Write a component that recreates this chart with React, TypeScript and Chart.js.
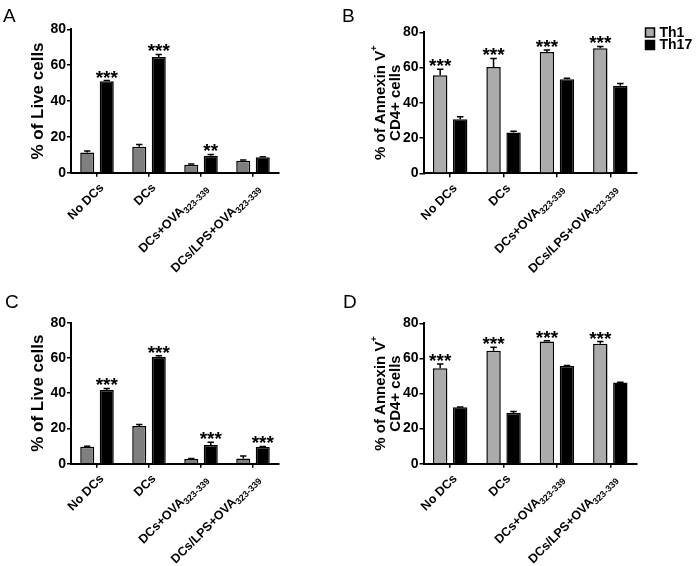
import { useEffect, useRef } from 'react';
import { Chart, registerables } from 'chart.js';

Chart.register(...registerables);

// ---------- data ----------
const categories = ['No DCs', 'DCs', 'DCs+OVA', 'DCs/LPS+OVA'];
const categorySubscripts = ['', '', '323-339', '323-339'];
const seriesNames = ['Th1', 'Th17'];
const yTicks = [0, 20, 40, 60, 80];

const aTh1 = [11.3, 14.5, 4.5, 6.7];
const aTh1Err = [0.8, 1.3, 0.3, 0.4];
const aTh17 = [51.0, 64.6, 9.5, 8.6];
const aTh17Err = [0.4, 1.4, 0.7, 0.3];
const aStars = ['***', '***', '**', ''];

const bTh1 = [55.6, 60.3, 68.8, 70.9];
const bTh1Err = [3.4, 4.9, 1.1, 1.1];
const bTh17 = [30.6, 23.1, 53.3, 49.7];
const bTh17Err = [1.5, 0.7, 0.7, 1.3];
const bStars = ['***', '***', '***', '***'];

const cTh1 = [9.6, 21.4, 2.6, 3.0];
const cTh1Err = [0.3, 0.9, 0.4, 1.3];
const cTh17 = [41.8, 60.7, 10.6, 9.5];
const cTh17Err = [0.9, 0.5, 1.5, 0.3];
const cStars = ['***', '***', '***', '***'];

const dTh1 = [54.4, 64.4, 69.6, 68.4];
const dTh1Err = [2.4, 1.9, 0.4, 1.2];
const dTh17 = [32.1, 28.9, 55.7, 46.2];
const dTh17Err = [0.2, 0.8, 0.3, 0.2];
const dStars = ['***', '***', '***', '***'];

const liveTitle = [[{ t: '% of Live cells', sup: false }]];
const annexinTitle = [
  [{ t: '% of Annexin V', sup: false }, { t: '+', sup: true }],
  [{ t: 'CD4+ cells', sup: false }],
];

// ---------- styling ----------
const FONT = '"Liberation Sans", Arial, sans-serif';
const DARK_GREY = '#7f7f7f';
const LIGHT_GREY = '#ababab';
const BLACK = '#000000';

type Seg = { t: string; sup: boolean };
type Panel = {
  letter: string;
  left: number; top: number; width: number; height: number;
  area: { l: number; r: number; t: number; b: number };
  th1: number[]; th1Err: number[]; th17: number[]; th17Err: number[];
  stars: string[]; starSeries: number; th1Color: string;
  title: Seg[][]; titleX: number[]; titleFont: number;
  legend: boolean; letterPos: [number, number];
};

const panels: Panel[] = [
  {
    letter: 'A', left: 0, top: 0, width: 340, height: 283,
    area: { l: 71, r: 279, t: 29.3, b: 172.7 },
    th1: aTh1, th1Err: aTh1Err, th17: aTh17, th17Err: aTh17Err,
    stars: aStars, starSeries: 1, th1Color: DARK_GREY,
    title: liveTitle, titleX: [38], titleFont: 17, legend: false, letterPos: [3, 22],
  },
  {
    letter: 'B', left: 340, top: 0, width: 356, height: 283,
    area: { l: 83.5, r: 297, t: 32.3, b: 173.3 },
    th1: bTh1, th1Err: bTh1Err, th17: bTh17, th17Err: bTh17Err,
    stars: bStars, starSeries: 0, th1Color: LIGHT_GREY,
    title: annexinTitle, titleX: [41, 55.5], titleFont: 15, legend: true, letterPos: [2, 22],
  },
  {
    letter: 'C', left: 0, top: 283, width: 340, height: 283,
    area: { l: 71, r: 279, t: 39.7, b: 180.7 },
    th1: cTh1, th1Err: cTh1Err, th17: cTh17, th17Err: cTh17Err,
    stars: cStars, starSeries: 1, th1Color: DARK_GREY,
    title: liveTitle, titleX: [38], titleFont: 17, legend: false, letterPos: [5, 25],
  },
  {
    letter: 'D', left: 340, top: 283, width: 356, height: 283,
    area: { l: 83.5, r: 297, t: 40.3, b: 180.7 },
    th1: dTh1, th1Err: dTh1Err, th17: dTh17, th17Err: dTh17Err,
    stars: dStars, starSeries: 0, th1Color: LIGHT_GREY,
    title: annexinTitle, titleX: [41, 55.5], titleFont: 15, legend: false, letterPos: [3, 25],
  },
];

function makeChart(canvas: HTMLCanvasElement, p: Panel) {
  const decor = {
    id: 'decor',
    afterDatasetsDraw(chart: any) {
      const ctx = chart.ctx as CanvasRenderingContext2D;
      const ys = chart.scales.y;
      const vals = [p.th1, p.th17];
      const errs = [p.th1Err, p.th17Err];
      ctx.save();
      ctx.strokeStyle = BLACK;
      ctx.fillStyle = BLACK;
      ctx.lineWidth = 1.5;
      for (let d = 0; d < 2; d++) {
        const meta = chart.getDatasetMeta(d);
        meta.data.forEach((el: any, i: number) => {
          const top = ys.getPixelForValue(vals[d][i] + errs[d][i]);
          const w = el.width * 0.45;
          ctx.beginPath();
          ctx.moveTo(el.x, el.y);
          ctx.lineTo(el.x, top);
          ctx.moveTo(el.x - w / 2, top);
          ctx.lineTo(el.x + w / 2, top);
          ctx.stroke();
          if (d === p.starSeries && p.stars[i]) {
            ctx.font = `bold 19px ${FONT}`;
            ctx.textAlign = 'center';
            ctx.textBaseline = 'alphabetic';
            ctx.fillText(p.stars[i], el.x, top + 3);
          }
        });
      }
      ctx.restore();
    },
    afterDraw(chart: any) {
      const ctx = chart.ctx as CanvasRenderingContext2D;
      const xs = chart.scales.x;
      const area = chart.chartArea;
      ctx.save();
      ctx.fillStyle = BLACK;
      // category labels (rotated, with subscripts)
      categories.forEach((c, i) => {
        const sub = categorySubscripts[i];
        const x = xs.getPixelForTick(i);
        ctx.save();
        ctx.translate(x + 4, xs.top + 12);
        ctx.rotate(-Math.PI / 4);
        const mainF = `bold 12.5px ${FONT}`;
        const subF = `bold 9px ${FONT}`;
        ctx.font = mainF;
        const wm = ctx.measureText(c).width;
        ctx.font = subF;
        const ws = sub ? ctx.measureText(sub).width + 0.5 : 0;
        ctx.textAlign = 'left';
        ctx.textBaseline = 'alphabetic';
        ctx.font = mainF;
        ctx.fillText(c, -(wm + ws), 5);
        if (sub) {
          ctx.font = subF;
          ctx.fillText(sub, -ws, 8);
        }
        ctx.restore();
      });
      // y-axis title
      const cy = (area.top + area.bottom) / 2;
      p.title.forEach((line, li) => {
        const mainF = `bold ${p.titleFont}px ${FONT}`;
        const supF = `bold ${Math.round(p.titleFont * 0.62)}px ${FONT}`;
        let total = 0;
        const widths = line.map((s) => {
          ctx.font = s.sup ? supF : mainF;
          const w = ctx.measureText(s.t).width;
          total += w;
          return w;
        });
        ctx.save();
        ctx.translate(p.titleX[li], cy);
        ctx.rotate(-Math.PI / 2);
        ctx.textAlign = 'left';
        ctx.textBaseline = 'middle';
        let xx = -total / 2;
        line.forEach((s, si) => {
          ctx.font = s.sup ? supF : mainF;
          ctx.fillText(s.t, xx, s.sup ? -p.titleFont * 0.4 : 0);
          xx += widths[si];
        });
        ctx.restore();
      });
      // legend
      if (p.legend) {
        const colors = [p.th1Color, BLACK];
        seriesNames.forEach((n, i) => {
          const sx = 305.5, sy = 28 + i * 12.5;
          ctx.fillStyle = colors[i];
          ctx.fillRect(sx, sy, 9, 9);
          ctx.strokeStyle = BLACK;
          ctx.lineWidth = 1.5;
          ctx.strokeRect(sx, sy, 9, 9);
          ctx.fillStyle = BLACK;
          ctx.font = `bold 14px ${FONT}`;
          ctx.textAlign = 'left';
          ctx.textBaseline = 'middle';
          ctx.fillText(n, sx + 14, sy + 5);
        });
      }
      // panel letter
      ctx.fillStyle = BLACK;
      ctx.font = `19px ${FONT}`;
      ctx.textAlign = 'left';
      ctx.textBaseline = 'alphabetic';
      ctx.fillText(p.letter, p.letterPos[0], p.letterPos[1]);
      ctx.restore();
    },
  };

  const axisGrid = {
    display: true,
    drawOnChartArea: false,
    drawTicks: true,
    tickLength: 4,
    color: BLACK,
    lineWidth: 1.5,
  };

  return new Chart(canvas, {
    type: 'bar',
    data: {
      labels: categories,
      datasets: [
        {
          label: seriesNames[0], data: p.th1, backgroundColor: p.th1Color,
          borderColor: BLACK, borderWidth: 1.5,
          barPercentage: 0.72, categoryPercentage: 0.75,
        },
        {
          label: seriesNames[1], data: p.th17, backgroundColor: BLACK,
          borderColor: BLACK, borderWidth: 1.5,
          barPercentage: 0.72, categoryPercentage: 0.75,
        },
      ],
    },
    options: {
      responsive: false,
      animation: false,
      events: [],
      layout: {
        padding: { left: 0, top: p.area.t, right: p.width - p.area.r, bottom: 0 },
      },
      plugins: {
        legend: { display: false },
        tooltip: { enabled: false },
        title: { display: false },
      },
      scales: {
        x: {
          type: 'category',
          offset: true,
          grid: { ...axisGrid, offset: false },
          border: { display: true, color: BLACK, width: 2 },
          ticks: { display: false },
          afterFit: (s: any) => { s.height = p.height - p.area.b; },
        },
        y: {
          min: 0,
          max: 80,
          afterBuildTicks: (s: any) => { s.ticks = yTicks.map((v) => ({ value: v })); },
          grid: axisGrid,
          border: { display: true, color: BLACK, width: 2 },
          ticks: {
            color: BLACK,
            padding: 1,
            font: { family: FONT, size: 14, weight: 'bold' },
          },
          afterFit: (s: any) => { s.width = p.area.l; },
        },
      },
    } as any,
    plugins: [decor],
  });
}

function PanelCanvas({ p }: { p: Panel }) {
  const ref = useRef<HTMLCanvasElement | null>(null);
  useEffect(() => {
    if (!ref.current) return;
    const chart = makeChart(ref.current, p);
    return () => chart.destroy();
  }, [p]);
  return (
    <canvas
      ref={ref}
      width={p.width}
      height={p.height}
      style={{ position: 'absolute', left: p.left, top: p.top, width: p.width, height: p.height }}
    />
  );
}

export default function App() {
  return (
    <div style={{ position: 'absolute', left: 0, top: 0, width: 696, height: 566, background: '#ffffff' }}>
      {panels.map((p) => (
        <PanelCanvas key={p.letter} p={p} />
      ))}
    </div>
  );
}
